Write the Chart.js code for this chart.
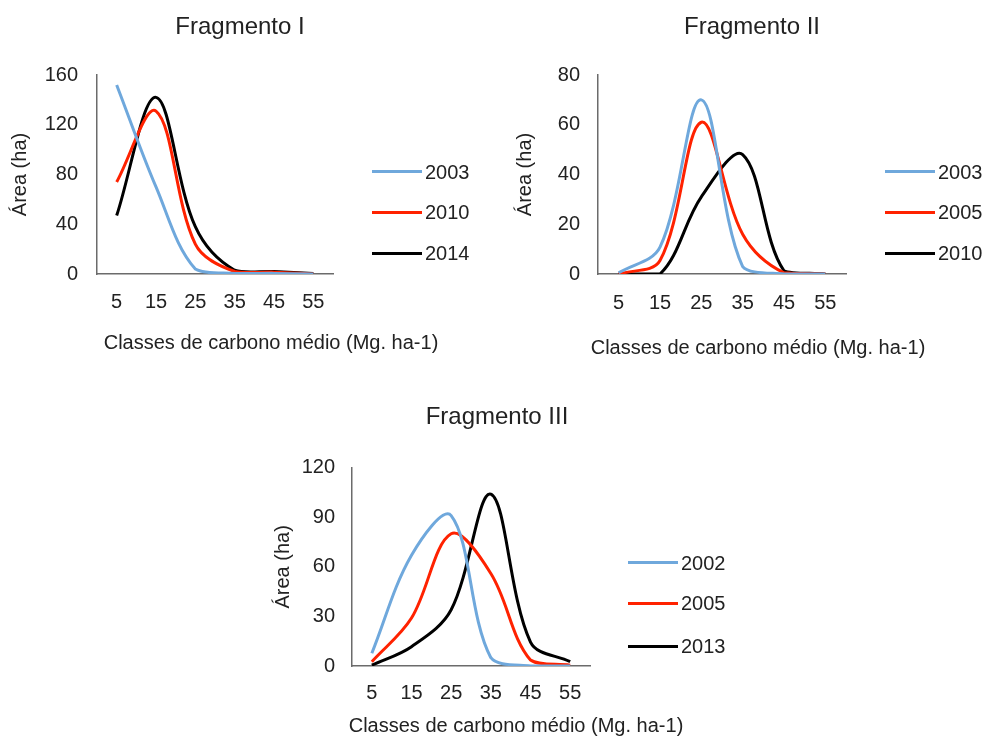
<!DOCTYPE html>
<html>
<head>
<meta charset="utf-8">
<script src="https://cdn.jsdelivr.net/npm/chart.js@4.4.1/dist/chart.umd.min.js"></script>
<style>
  body { margin: 0; background: #fff; width: 987px; height: 737px; position: relative; overflow: hidden;
         font-family: "Liberation Sans", Arial, sans-serif; }
  canvas { position: absolute; }
  .leg { position: absolute; font-size: 20px; color: #222; white-space: nowrap; line-height: 24px; height: 24px; }
  .leg span { position: absolute; top: 10.5px; height: 3px; }
  .xtitle { position: absolute; width: 500px; text-align: center; font-size: 20px; color: #222;
            line-height: 24px; height: 24px; white-space: nowrap; }
</style>
</head>
<body>
<canvas id="frag1" width="476" height="358" style="left:0px;top:0px"></canvas>
<canvas id="frag2" width="490" height="363" style="left:505px;top:0px"></canvas>
<canvas id="frag3" width="464" height="351" style="left:263px;top:390px"></canvas>

<script>
// classes de carbono (eixo x)
const classes = ['5', '15', '25', '35', '45', '55'];
const xAxisTitle = 'Classes de carbono médio (Mg. ha-1)';
const yAxisTitle = 'Área (ha)';

// Fragmento I
const frag1Years = ['2003', '2010', '2014'];
const frag1Y2003 = [152, 70, 4, 0.5, 0.5, 0];
const frag1Y2010 = [74, 131, 24, 2, 1.5, 0];
const frag1Y2014 = [47, 142, 38, 3, 2, 0.5];
const frag1Ticks = [0, 40, 80, 120, 160];

// Fragmento II
const frag2Years = ['2003', '2005', '2010'];
const frag2Y2003 = [0.5, 10.8, 70, 3, 0, 0];
const frag2Y2005 = [0, 5.4, 61, 16, 0.5, 0];
const frag2Y2010 = [0, 0, 31, 48, 1.3, 0];
const frag2Ticks = [0, 20, 40, 60, 80];

// Fragmento III
const frag3Years = ['2002', '2005', '2013'];
const frag3Y2002 = [7.7, 67, 91, 5, 0, 0];
const frag3Y2005 = [2.6, 29, 80, 56, 3.6, 0.5];
const frag3Y2013 = [0.5, 11.7, 34, 104, 14.5, 2.6];
const frag3Ticks = [0, 30, 60, 90, 120];

const seriesColors = ['#6fa8dc', '#ff2200', '#000000'];
const textColor = '#222';
const axisColor = '#6b6b6b';

Chart.defaults.font.family = "'Liberation Sans', Arial, sans-serif";

const drawFragment = (cfg) => {
    const ctx = document.getElementById(cfg.id).getContext('2d');
    new Chart(ctx, {
        type: 'line',
        data: {
            labels: classes,
            datasets: cfg.years.map((year, i) => ({
                label: year,
                data: cfg.series[i],
                borderColor: seriesColors[i],
                backgroundColor: seriesColors[i],
                borderWidth: 3,
                pointRadius: 0,
                tension: 0.35,
                fill: false
            }))
        },
        options: {
            responsive: false,
            animation: false,
            layout: { padding: { left: 4, right: 0, top: 0, bottom: 0 } },
            plugins: {
                legend: { display: false },
                tooltip: { enabled: false },
                title: {
                    display: true,
                    text: cfg.title,
                    color: textColor,
                    font: { size: 24, weight: 'normal' },
                    padding: { top: 12.6, bottom: cfg.titleGap }
                }
            },
            scales: {
                x: {
                    offset: true,
                    grid: { display: false, drawTicks: false },
                    border: { display: true, color: axisColor, width: 1.5 },
                    ticks: { color: textColor, font: { size: 20 }, padding: cfg.xTickPad, maxRotation: 0, autoSkip: false },
                    afterFit: (s) => { s.height = cfg.xAxisH; }
                },
                y: {
                    min: cfg.ticks[0],
                    max: cfg.ticks[cfg.ticks.length - 1],
                    grid: { display: false, drawTicks: false },
                    border: { display: true, color: axisColor, width: 1.5 },
                    ticks: { stepSize: cfg.ticks[1] - cfg.ticks[0], color: textColor, font: { size: 20 }, padding: cfg.yTickPad },
                    title: {
                        display: true,
                        text: yAxisTitle,
                        color: textColor,
                        font: { size: 20 },
                        padding: { top: 4, bottom: 4 }
                    },
                    afterFit: (s) => { s.width = cfg.yAxisW; }
                },
                // espaço vazio entre o gráfico e a legenda
                yGap: {
                    type: 'linear',
                    axis: 'y',
                    position: 'right',
                    display: true,
                    grid: { display: false },
                    border: { display: false },
                    ticks: { display: false },
                    afterFit: (s) => { s.width = cfg.rightGap; }
                }
            }
        }
    });

    // título do eixo x (mais largo que a área do gráfico)
    const xt = document.createElement('div');
    xt.className = 'xtitle';
    xt.style.left = (cfg.xTitle.cx - 250) + 'px';
    xt.style.top = (cfg.xTitle.cy - 12) + 'px';
    xt.textContent = xAxisTitle;
    document.body.appendChild(xt);

    // legenda
    cfg.years.forEach((year, i) => {
        const row = document.createElement('div');
        row.className = 'leg';
        row.style.left = cfg.legend.x + 'px';
        row.style.top = (cfg.legend.rows[i] - 12) + 'px';
        row.style.paddingLeft = cfg.legend.textOffset + 'px';
        const line = document.createElement('span');
        line.style.left = '0px';
        line.style.width = cfg.legend.lineW + 'px';
        line.style.background = seriesColors[i];
        row.appendChild(line);
        row.appendChild(document.createTextNode(year));
        document.body.appendChild(row);
    });
};

drawFragment({
    id: 'frag1', title: 'Fragmento I', years: frag1Years,
    series: [frag1Y2003, frag1Y2010, frag1Y2014], ticks: frag1Ticks,
    titleGap: 33.6, xTickPad: 16.5, xAxisH: 84, yTickPad: 19, yAxisW: 93, rightGap: 143,
    xTitle: { cx: 271, cy: 342 },
    legend: { x: 372, lineW: 50, textOffset: 53, rows: [171.7, 212.3, 253.3] }
});

drawFragment({
    id: 'frag2', title: 'Fragmento II', years: frag2Years,
    series: [frag2Y2003, frag2Y2005, frag2Y2010], ticks: frag2Ticks,
    titleGap: 33.6, xTickPad: 17, xAxisH: 89, yTickPad: 18, yAxisW: 89, rightGap: 149,
    xTitle: { cx: 758, cy: 347 },
    legend: { x: 885, lineW: 50, textOffset: 53, rows: [171.7, 212.3, 253.3] }
});

drawFragment({
    id: 'frag3', title: 'Fragmento III', years: frag3Years,
    series: [frag3Y2002, frag3Y2005, frag3Y2013], ticks: frag3Ticks,
    titleGap: 36.3, xTickPad: 15, xAxisH: 75, yTickPad: 17, yAxisW: 85, rightGap: 137,
    xTitle: { cx: 516, cy: 725 },
    legend: { x: 628, lineW: 50, textOffset: 53, rows: [562.7, 603.3, 646] }
});
</script>
</body>
</html>
